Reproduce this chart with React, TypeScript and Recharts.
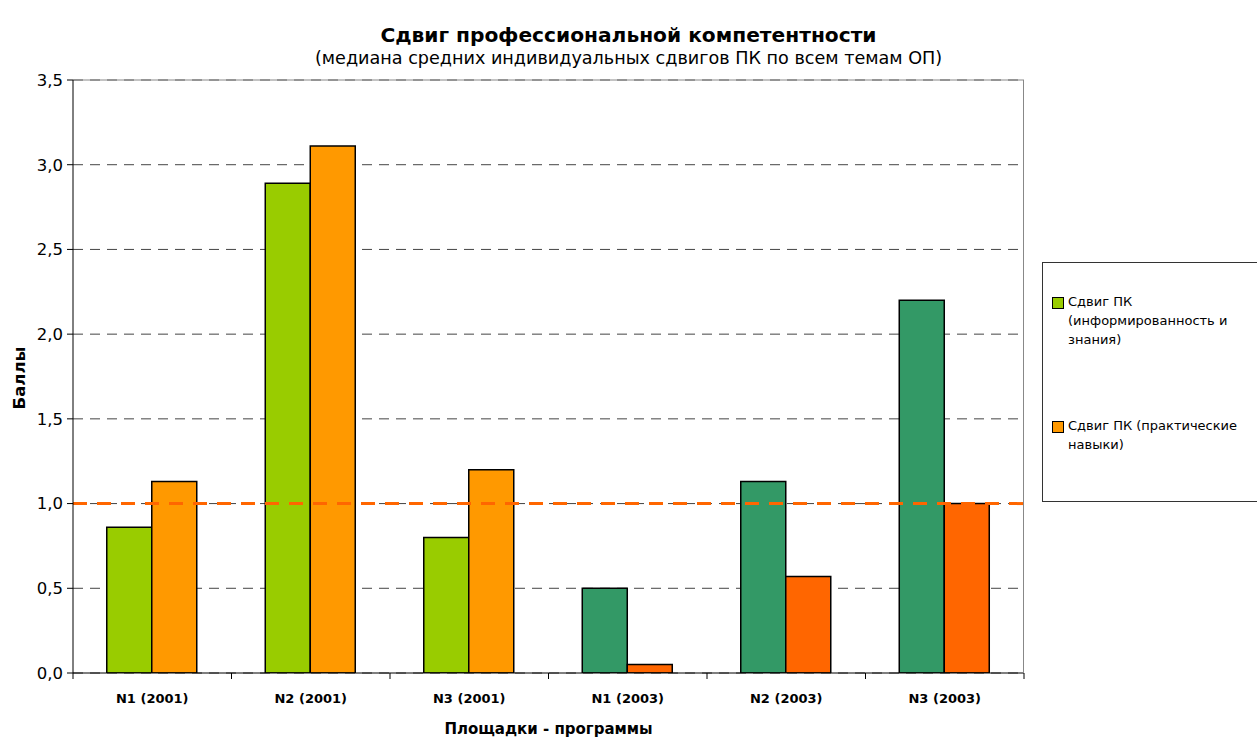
import React from 'react';
import { BarChart, Bar, XAxis, YAxis, CartesianGrid, ReferenceLine, Cell } from 'recharts';

const categories = ['N1 (2001)', 'N2 (2001)', 'N3 (2001)', 'N1 (2003)', 'N2 (2003)', 'N3 (2003)'];
const years = [2001, 2001, 2001, 2003, 2003, 2003];
const knowledgeValues = [0.86, 2.89, 0.8, 0.5, 1.13, 2.2];
const skillsValues = [1.13, 3.11, 1.2, 0.05, 0.57, 1.0];
const yTicks = [0, 0.5, 1, 1.5, 2, 2.5, 3, 3.5];
const seriesNames = ['Сдвиг ПК (информированность и знания)', 'Сдвиг ПК (практические навыки)'];
const legendLines = [
  ['Сдвиг ПК', '(информированность и', 'знания)'],
  ['Сдвиг ПК (практические', 'навыки)'],
];
const knowledgeColors: Record<number, string> = { 2001: '#99CC00', 2003: '#339966' };
const skillsColors: Record<number, string> = { 2001: '#FF9900', 2003: '#FF6600' };
const threshold = 1.0;
const title = 'Сдвиг профессиональной компетентности';
const subtitle = '(медиана средних индивидуальных сдвигов ПК по всем темам ОП)';
const xLabel = 'Площадки - программы';
const yLabel = 'Баллы';

const data = categories.map((c, i) => ({
  name: c,
  year: years[i],
  knowledge: knowledgeValues[i],
  skills: skillsValues[i],
}));

const FONT = '"DejaVu Sans", "Noto Sans", sans-serif';

const fmt = (v: number) => v.toFixed(1).replace('.', ',');

const XTick = (props: any) => {
  const { x, y, payload, index, visibleTicksCount } = props;
  const off = payload.offset || 0;
  const isLast = index === (visibleTicksCount ? visibleTicksCount - 1 : categories.length - 1);
  return (
    <g>
      <line x1={x - off} x2={x - off} y1={y - 8} y2={y - 2} stroke="#000" strokeWidth={1} />
      {isLast && <line x1={x + off} x2={x + off} y1={y - 8} y2={y - 2} stroke="#000" strokeWidth={1} />}
      <text x={x} y={y + 22} textAnchor="middle" fontSize={13} fontWeight="bold" fontFamily={FONT} fill="#000">
        {payload.value}
      </text>
    </g>
  );
};

export default function App() {
  return (
    <div style={{ position: 'absolute', left: 0, top: 0, width: 1257, height: 738, overflow: 'hidden', background: '#fff', fontFamily: FONT, color: '#000' }}>
      <div style={{ position: 'absolute', left: 0, top: 21, width: 1257, textAlign: 'center', fontSize: 20.2, fontWeight: 'bold', lineHeight: '28px' }}>{title}</div>
      <div style={{ position: 'absolute', left: 0, top: 46, width: 1257, textAlign: 'center', fontSize: 17.6, lineHeight: '24px' }}>{subtitle}</div>
      <BarChart
        width={1257}
        height={738}
        data={data}
        margin={{ top: 80, right: 233, bottom: 35, left: 0 }}
        barCategoryGap="21.3%"
        barGap={0}
        style={{ position: 'absolute', left: 0, top: 0 }}
      >
        <CartesianGrid vertical={false} stroke="#444" strokeDasharray="10 7" />
        <XAxis
          dataKey="name"
          tickLine={false}
          axisLine={{ stroke: '#000', strokeWidth: 1 }}
          tick={<XTick />}
          height={30}
          interval={0}
        />
        <YAxis
          domain={[0, 3.5]}
          ticks={yTicks}
          width={73}
          tickFormatter={fmt}
          axisLine={{ stroke: '#000', strokeWidth: 1 }}
          tickLine={{ stroke: '#000' }}
          tickSize={6}
          tickMargin={4}
          tick={{ fontSize: 16.5, fill: '#000', fontFamily: FONT }}
          allowDataOverflow
        />
        <ReferenceLine y={3.5} stroke="#888" strokeWidth={1} />
        <Bar dataKey="knowledge" name={seriesNames[0]} stroke="#000" strokeWidth={1.5} isAnimationActive={false}>
          {data.map((d, i) => (
            <Cell key={i} fill={knowledgeColors[d.year]} />
          ))}
        </Bar>
        <Bar dataKey="skills" name={seriesNames[1]} stroke="#000" strokeWidth={1.5} isAnimationActive={false}>
          {data.map((d, i) => (
            <Cell key={i} fill={skillsColors[d.year]} />
          ))}
        </Bar>
        <ReferenceLine y={threshold} stroke="#FF6600" strokeWidth={3} strokeDasharray="14 10" />
      </BarChart>
      <div style={{ position: 'absolute', left: 1023, top: 80, width: 1, height: 593, background: '#888' }} />
      <div style={{ position: 'absolute', left: 0, top: 368, width: 40, height: 20, transform: 'rotate(-90deg)', transformOrigin: 'center', fontSize: 16.5, fontWeight: 'bold', lineHeight: '20px' }}>
        <span style={{ position: 'absolute', left: '50%', transform: 'translateX(-50%)', whiteSpace: 'nowrap' }}>{yLabel}</span>
      </div>
      <div style={{ position: 'absolute', left: 73, top: 719, width: 951, textAlign: 'center', fontSize: 15, fontWeight: 'bold', lineHeight: '20px' }}>{xLabel}</div>
      <div style={{ position: 'absolute', left: 1042, top: 262, width: 240, height: 240, border: '1px solid #333', boxSizing: 'border-box' }}>
        {legendLines.map((lines, k) => (
          <div key={k} style={{ position: 'absolute', left: 9, top: k === 0 ? 29 : 153, whiteSpace: 'nowrap' }}>
            <div style={{ position: 'absolute', left: 0, top: 5, width: 10, height: 10, border: '1px solid #000', background: k === 0 ? knowledgeColors[2001] : skillsColors[2001] }} />
            <div style={{ position: 'absolute', left: 16, top: 0, fontSize: 13, lineHeight: '19px' }}>
              {lines.map((l, j) => (
                <div key={j}>{l}</div>
              ))}
            </div>
          </div>
        ))}
      </div>
    </div>
  );
}
